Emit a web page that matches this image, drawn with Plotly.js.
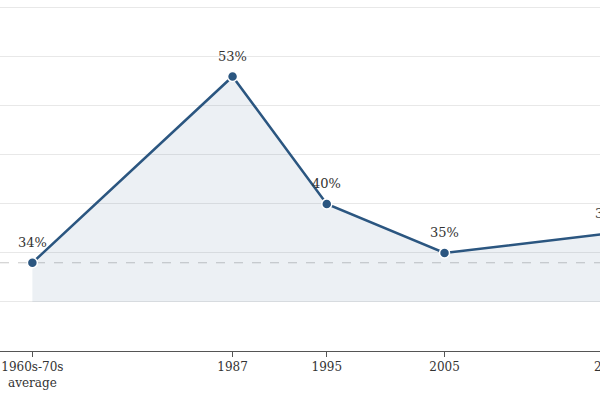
<!DOCTYPE html>
<html>
<head>
<meta charset="utf-8">
<script src="https://cdn.plot.ly/plotly-3.0.1.min.js"></script>
<style>
  html, body { margin: 0; padding: 0; overflow: hidden; background: #fff; }
  #chart { width: 680px; height: 400px; position: relative; left: -40px; }
</style>
</head>
<body>
<div id="chart"></div>
<script>
// Datos de la grafica
const years = [1970, 1987, 1995, 2005, 2019];
const shares = [34, 53, 40, 35, 37];
const tickLabels = ['1960s-70s<br>average', '1987', '1995', '2005', '2019'];
const baseValue = 30;      // piso del area sombreada
const averageValue = 34;   // linea punteada de referencia

const lineColor = '#2b5680';
const fontFamily = "'DejaVu Serif', serif";

// Traza invisible para que el area llegue solo hasta 30%
const base = {
    x: years,
    y: years.map(() => baseValue),
    type: 'scatter',
    mode: 'lines',
    line: { width: 0, color: 'rgba(0,0,0,0)' },
    hoverinfo: 'skip',
    showlegend: false
};

const trace = {
    x: years,
    y: shares,
    type: 'scatter',
    mode: 'lines+markers',
    fill: 'tonexty',
    fillcolor: 'rgba(43,86,128,0.09)',
    line: { color: lineColor, width: 2.5 },
    marker: { color: lineColor, size: 10, line: { color: '#fff', width: 1.5 } },
    cliponaxis: false,
    showlegend: false
};

// Etiquetas de porcentaje encima de cada punto
const labels = years.map((yr, i) => ({
    x: yr,
    y: shares[i],
    xref: 'x',
    yref: 'y',
    text: shares[i] + '%',
    showarrow: false,
    yshift: 20,
    font: { family: fontFamily, size: 13, color: '#333' }
}));

const layout = {
    width: 680,
    height: 400,
    paper_bgcolor: '#fff',
    plot_bgcolor: '#fff',
    margin: { t: 0, r: 0, b: 49, l: 40 },
    font: { family: fontFamily, size: 12, color: '#333' },
    showlegend: false,
    annotations: labels,
    xaxis: {
        range: [1967.25, 2021.6],
        tickvals: years,
        ticktext: tickLabels,
        showgrid: false,
        zeroline: false,
        showline: true,
        linecolor: '#555',
        linewidth: 1,
        ticks: 'outside',
        ticklen: 5,
        tickcolor: '#555',
        tickfont: { family: fontFamily, size: 12, color: '#333' }
    },
    yaxis: {
        range: [25, 60.8],
        dtick: 5,
        showticklabels: false,
        showgrid: true,
        gridcolor: '#e8e8e8',
        zeroline: false,
        showline: false
    },
    shapes: [{
        type: 'line',
        xref: 'paper', x0: 0, x1: 1,
        yref: 'y', y0: averageValue, y1: averageValue,
        line: { color: '#c8c8c8', width: 1, dash: 'dash' },
        layer: 'below'
    }]
};

Plotly.newPlot('chart', [base, trace], layout, { displayModeBar: false, staticPlot: true });
</script>
</body>
</html>
